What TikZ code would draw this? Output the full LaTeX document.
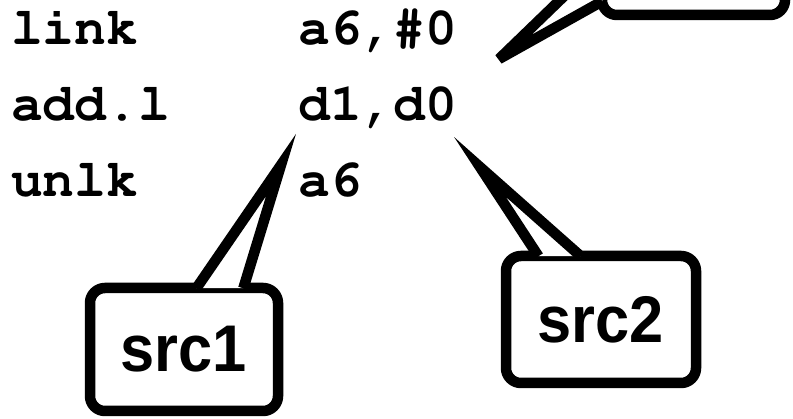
\documentclass[tikz,border=0pt]{standalone}
\usepackage[T1,TU]{fontenc}
\usepackage{fontspec}
\newfontfamily\calloutfont{Liberation Sans}[FakeStretch=0.93]
\newcommand\codefont{\fontencoding{T1}\fontfamily{pcr}\fontseries{b}\selectfont}
\usetikzlibrary{positioning}

\begin{document}
\begin{tikzpicture}
[
x=1pt, y=-1pt,
code-a/.style={anchor=base west, inner sep=0pt, font=\codefont\fontsize{53}{60}\selectfont},
box-a/.style={draw, fill=white, line width=10.5pt, rounded corners=15pt, inner sep=0pt, font=\calloutfont\bfseries\fontsize{66}{76}\selectfont},
tail-a/.style={draw, fill=white, line width=10.5pt, line join=miter},
tail-b/.style={tail-a, line join=bevel}
]
\useasboundingbox (0,0) rectangle (793,419);
\node (op-1)   [code-a] at (11,45)  {link};
\node (arg-1)  [code-a] at (298,45) {a6,\#0};
\node (op-2)   [code-a] at (11,121) {add.l};
\node (arg-2)  [code-a] at (298,121) {d1,d0};
\node (op-3)   [code-a] at (11,197) {unlk};
\node (arg-3)  [code-a] at (298,197) {a6};
% callout boxes
\node (src1-box) [box-a, minimum width=188pt, minimum height=123pt] at (184,349.5) {src1};
\node (src2-box) [box-a, minimum width=190pt, minimum height=127pt] at (601,319.5) {src2};
\node (dest-box) [box-a, minimum width=183pt, minimum height=125pt] at (693.5,-47.5) {};
% pointer tips
\coordinate (src1-tip) at (281,165);
\coordinate (src2-tip) at (480,167);
\coordinate (dest-tip) at (499,59);
\draw [tail-a] ([xshift=111.6pt,yshift=-5.5pt]src1-box.north west) -- (src1-tip)
  -- ([xshift=158.6pt,yshift=-5.5pt]src1-box.north west);
\draw [tail-a] ([xshift=37.7pt,yshift=-5.5pt]src2-box.north west) -- (src2-tip)
  -- ([xshift=80pt,yshift=-5.5pt]src2-box.north west);
\draw [tail-b] ([xshift=5.5pt,yshift=19pt]dest-box.south west) -- (dest-tip)
  -- ([xshift=5.5pt,yshift=61pt]dest-box.south west);
\end{tikzpicture}
\end{document}
